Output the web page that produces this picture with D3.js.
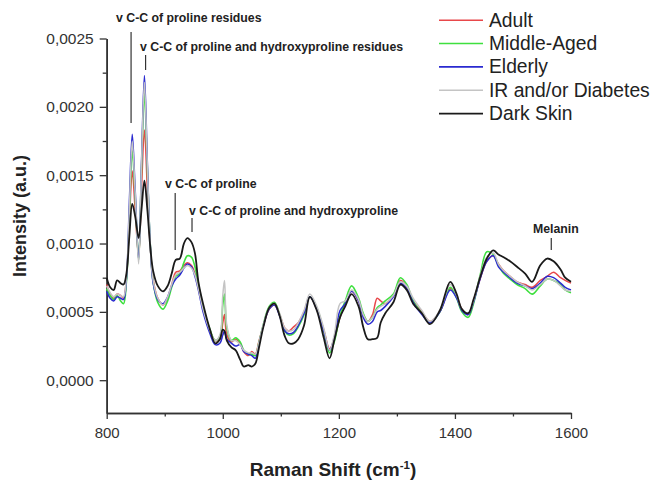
<!DOCTYPE html>
<html><head><meta charset="utf-8">
<script src="https://cdn.jsdelivr.net/npm/d3@7"></script>
<style>
html,body{margin:0;padding:0;background:#fff;}
svg{display:block;font-family:"Liberation Sans",Arial,sans-serif;}
</style></head>
<body><svg id="chart" width="654" height="481"></svg>
<script>
const wavenumbers = [800,806,812,818,824,829,834,839,844,849,855,860,865,870,875,880,888,897,905,912,919,926,933,939,946,952,958,966,978,987,995,1000,1003,1007,1015,1022,1030,1036,1044,1050,1056,1062,1070,1080,1089,1098,1107,1114,1122,1130,1140,1150,1162,1174,1184,1192,1202,1211,1222,1234,1242,1250,1258,1266,1272,1280,1294,1306,1317,1328,1343,1357,1374,1392,1403,1412,1423,1432,1444,1455,1466,1475,1484,1495,1507,1521,1533,1547,1559,1570,1582,1590,1600];

const adult = [0.00070,0.00063,0.00060,0.00063,0.00062,0.00060,0.00075,0.00115,0.00153,0.00125,
0.00090,0.00140,0.00183,0.00140,0.00098,0.00074,0.00060,0.00055,0.00060,0.00070,
0.00079,0.00080,0.00084,0.00086,0.00084,0.00078,0.00068,0.00052,0.00036,0.00029,
0.00030,0.00042,0.00048,0.00033,0.00028,0.00030,0.00027,0.00021,0.00018,0.00021,
0.00019,0.00028,0.00040,0.00052,0.00055,0.00048,0.00038,0.00036,0.00039,0.00042,
0.00050,0.00061,0.00052,0.00037,0.00023,0.00030,0.00046,0.00056,0.00065,0.00058,
0.00048,0.00043,0.00048,0.00060,0.00058,0.00056,0.00062,0.00073,0.00069,0.00058,
0.00050,0.00043,0.00050,0.00067,0.00061,0.00052,0.00048,0.00058,0.00075,0.00087,
0.00091,0.00085,0.00080,0.00076,0.00072,0.00070,0.00068,0.00073,0.00076,0.00079,
0.00075,0.00073,0.00071];

const middleAged = [0.00067,0.00062,0.00059,0.00062,0.00058,0.00056,0.00072,0.00120,0.00168,0.00135,
0.00088,0.00155,0.00210,0.00155,0.00100,0.00072,0.00057,0.00052,0.00058,0.00068,
0.00076,0.00078,0.00086,0.00091,0.00090,0.00083,0.00070,0.00053,0.00037,0.00029,
0.00032,0.00055,0.00063,0.00038,0.00029,0.00031,0.00028,0.00022,0.00019,0.00019,
0.00018,0.00027,0.00041,0.00054,0.00057,0.00048,0.00036,0.00033,0.00034,0.00039,
0.00048,0.00061,0.00053,0.00036,0.00020,0.00028,0.00047,0.00058,0.00069,0.00060,
0.00049,0.00043,0.00046,0.00053,0.00055,0.00058,0.00063,0.00075,0.00070,0.00058,
0.00049,0.00042,0.00050,0.00068,0.00060,0.00050,0.00046,0.00056,0.00078,0.00094,
0.00092,0.00084,0.00078,0.00074,0.00070,0.00067,0.00063,0.00069,0.00074,0.00073,
0.00070,0.00066,0.00064];

const elderly = [0.00065,0.00060,0.00058,0.00061,0.00060,0.00059,0.00074,0.00130,0.00180,0.00140,
0.00088,0.00160,0.00223,0.00160,0.00100,0.00071,0.00059,0.00056,0.00061,0.00069,
0.00074,0.00077,0.00082,0.00085,0.00083,0.00076,0.00066,0.00050,0.00034,0.00026,
0.00027,0.00033,0.00036,0.00030,0.00027,0.00025,0.00026,0.00021,0.00019,0.00018,
0.00016,0.00026,0.00040,0.00052,0.00055,0.00047,0.00036,0.00034,0.00035,0.00040,
0.00049,0.00061,0.00052,0.00036,0.00022,0.00031,0.00051,0.00056,0.00065,0.00058,
0.00046,0.00041,0.00043,0.00050,0.00051,0.00054,0.00061,0.00071,0.00067,0.00057,
0.00048,0.00042,0.00050,0.00066,0.00060,0.00051,0.00048,0.00057,0.00075,0.00087,
0.00091,0.00083,0.00079,0.00075,0.00071,0.00069,0.00067,0.00071,0.00076,0.00075,
0.00071,0.00068,0.00066];

const irDiabetes = [0.00069,0.00064,0.00061,0.00063,0.00062,0.00061,0.00076,0.00125,0.00175,0.00138,
0.00085,0.00158,0.00218,0.00158,0.00100,0.00073,0.00060,0.00055,0.00061,0.00070,
0.00077,0.00079,0.00082,0.00084,0.00082,0.00077,0.00067,0.00052,0.00036,0.00029,
0.00033,0.00062,0.00073,0.00040,0.00029,0.00029,0.00026,0.00022,0.00020,0.00020,
0.00019,0.00027,0.00041,0.00053,0.00056,0.00049,0.00038,0.00036,0.00037,0.00042,
0.00051,0.00063,0.00054,0.00038,0.00022,0.00033,0.00056,0.00058,0.00066,0.00059,
0.00048,0.00043,0.00046,0.00052,0.00054,0.00056,0.00062,0.00072,0.00069,0.00060,
0.00051,0.00043,0.00051,0.00070,0.00062,0.00052,0.00049,0.00058,0.00077,0.00090,
0.00093,0.00085,0.00080,0.00076,0.00072,0.00069,0.00066,0.00070,0.00074,0.00073,
0.00069,0.00066,0.00065];

const darkSkin = [0.00075,0.00068,0.00066,0.00073,0.00071,0.00070,0.00078,0.00105,0.00129,0.00120,
0.00104,0.00125,0.00146,0.00125,0.00098,0.00080,0.00069,0.00065,0.00069,0.00078,
0.00088,0.00089,0.00100,0.00104,0.00101,0.00093,0.00072,0.00056,0.00037,0.00027,
0.00030,0.00037,0.00036,0.00029,0.00024,0.00022,0.00015,0.00010,0.00011,0.00010,
0.00012,0.00023,0.00039,0.00053,0.00056,0.00047,0.00032,0.00027,0.00027,0.00030,
0.00040,0.00061,0.00051,0.00031,0.00016,0.00029,0.00046,0.00054,0.00063,0.00054,
0.00039,0.00030,0.00030,0.00031,0.00042,0.00049,0.00057,0.00070,0.00066,0.00056,
0.00049,0.00041,0.00051,0.00072,0.00063,0.00052,0.00049,0.00059,0.00076,0.00089,
0.00095,0.00092,0.00090,0.00087,0.00083,0.00078,0.00072,0.00084,0.00089,0.00087,
0.00081,0.00075,0.00072];

const seriesNames = ["Adult","Middle-Aged","Elderly","IR and/or Diabetes","Dark Skin"];
const seriesValues = [adult, middleAged, elderly, irDiabetes, darkSkin];
const seriesColors = ["#e8474a","#3fe03f","#2a2ad0","#c4c4c4","#1a1a1a"];
const seriesWidths = [1.5,1.6,1.5,1.5,1.8];

const xTicks = [800,1000,1200,1400,1600];
const xMinorTicks = [900,1100,1300,1500];
const yTicks = [0,0.0005,0.0010,0.0015,0.0020,0.0025];
const yMinorTicks = [0.00025,0.00075,0.00125,0.00175,0.00225];

const annotations = [
  {text:"v C-C of proline residues", wn:842, tx:116, ty:22, y1:32, y2:123},
  {text:"v C-C of proline and hydroxyproline residues", wn:867, tx:140, ty:51, y1:55, y2:70},
  {text:"v C-C of proline", wn:918, tx:165, ty:188, y1:193, y2:250},
  {text:"v C-C of proline and hydroxyproline", wn:947, tx:189, ty:215, y1:218, y2:232},
  {text:"Melanin", wn:1566, tx:533, ty:233, y1:238, y2:250}
];

const svg = d3.select("#chart");
const x = d3.scaleLinear().domain([800,1600]).range([106.7,571]);
const y = d3.scaleLinear().domain([-0.00024,0.0025]).range([413,38.5]);
const fmt = d => d3.format(".4f")(d).replace(".", ",");

// axes
const gx = svg.append("g").attr("transform","translate(0,413)");
gx.call(d3.axisBottom(x).tickValues(xTicks).tickSize(6).tickSizeOuter(0).tickPadding(8).tickFormat(d3.format("d")));
gx.append("g").call(d3.axisBottom(x).tickValues(xMinorTicks).tickSize(3.5).tickSizeOuter(0).tickFormat(""));
const gy = svg.append("g").attr("transform","translate(106.7,0)");
gy.call(d3.axisLeft(y).tickValues(yTicks).tickSize(7).tickSizeOuter(0).tickPadding(6).tickFormat(fmt));
gy.append("g").call(d3.axisLeft(y).tickValues(yMinorTicks).tickSize(4).tickSizeOuter(0).tickFormat(""));
svg.selectAll(".domain").attr("stroke","#333").attr("stroke-width",1.6);
svg.selectAll(".tick line").attr("stroke","#333").attr("stroke-width",1.3);
gx.selectAll(".tick text").attr("font-size",15).attr("fill","#333").attr("font-family","Liberation Sans, Arial, sans-serif");
gy.selectAll(".tick text").attr("font-size",15.5).attr("fill","#333").attr("font-family","Liberation Sans, Arial, sans-serif");

// lines
const line = d3.line().x((d,i)=>x(wavenumbers[i])).y(d=>y(d)).curve(d3.curveCatmullRom.alpha(0.5));
seriesValues.forEach((vals,k)=>{
  svg.append("path").datum(vals).attr("d",line).attr("fill","none")
    .attr("stroke",seriesColors[k]).attr("stroke-width",seriesWidths[k]).attr("stroke-linejoin","round");
});

// annotations
annotations.forEach(a=>{
  svg.append("text").attr("x",a.tx).attr("y",a.ty).attr("font-size",12.3).attr("font-weight","bold")
    .attr("fill","#222").text(a.text);
  svg.append("line").attr("x1",x(a.wn)).attr("x2",x(a.wn)).attr("y1",a.y1).attr("y2",a.y2)
    .attr("stroke","#333").attr("stroke-width",1.2);
});

// legend
seriesNames.forEach((n,k)=>{
  const by = 26.7 + k*23.35;
  svg.append("line").attr("x1",439).attr("x2",483).attr("y1",by-6.5).attr("y2",by-6.5)
    .attr("stroke",seriesColors[k]).attr("stroke-width",1.6);
  svg.append("text").attr("x",489).attr("y",by).attr("font-size",19.3).attr("fill","#222").text(n);
});

// axis titles
svg.append("text").attr("transform","translate(26,216) rotate(-90)").attr("text-anchor","middle")
  .attr("font-size",18).attr("font-weight","bold").attr("fill","#222").text("Intensity (a.u.)");
const xt = svg.append("text").attr("x",333).attr("y",476).attr("text-anchor","middle")
  .attr("font-size",19).attr("font-weight","bold").attr("fill","#222");
xt.append("tspan").text("Raman Shift (cm");
xt.append("tspan").attr("dy",-7).attr("font-size",11.5).text("-1");
xt.append("tspan").attr("dy",7).text(")");
</script></body></html>
